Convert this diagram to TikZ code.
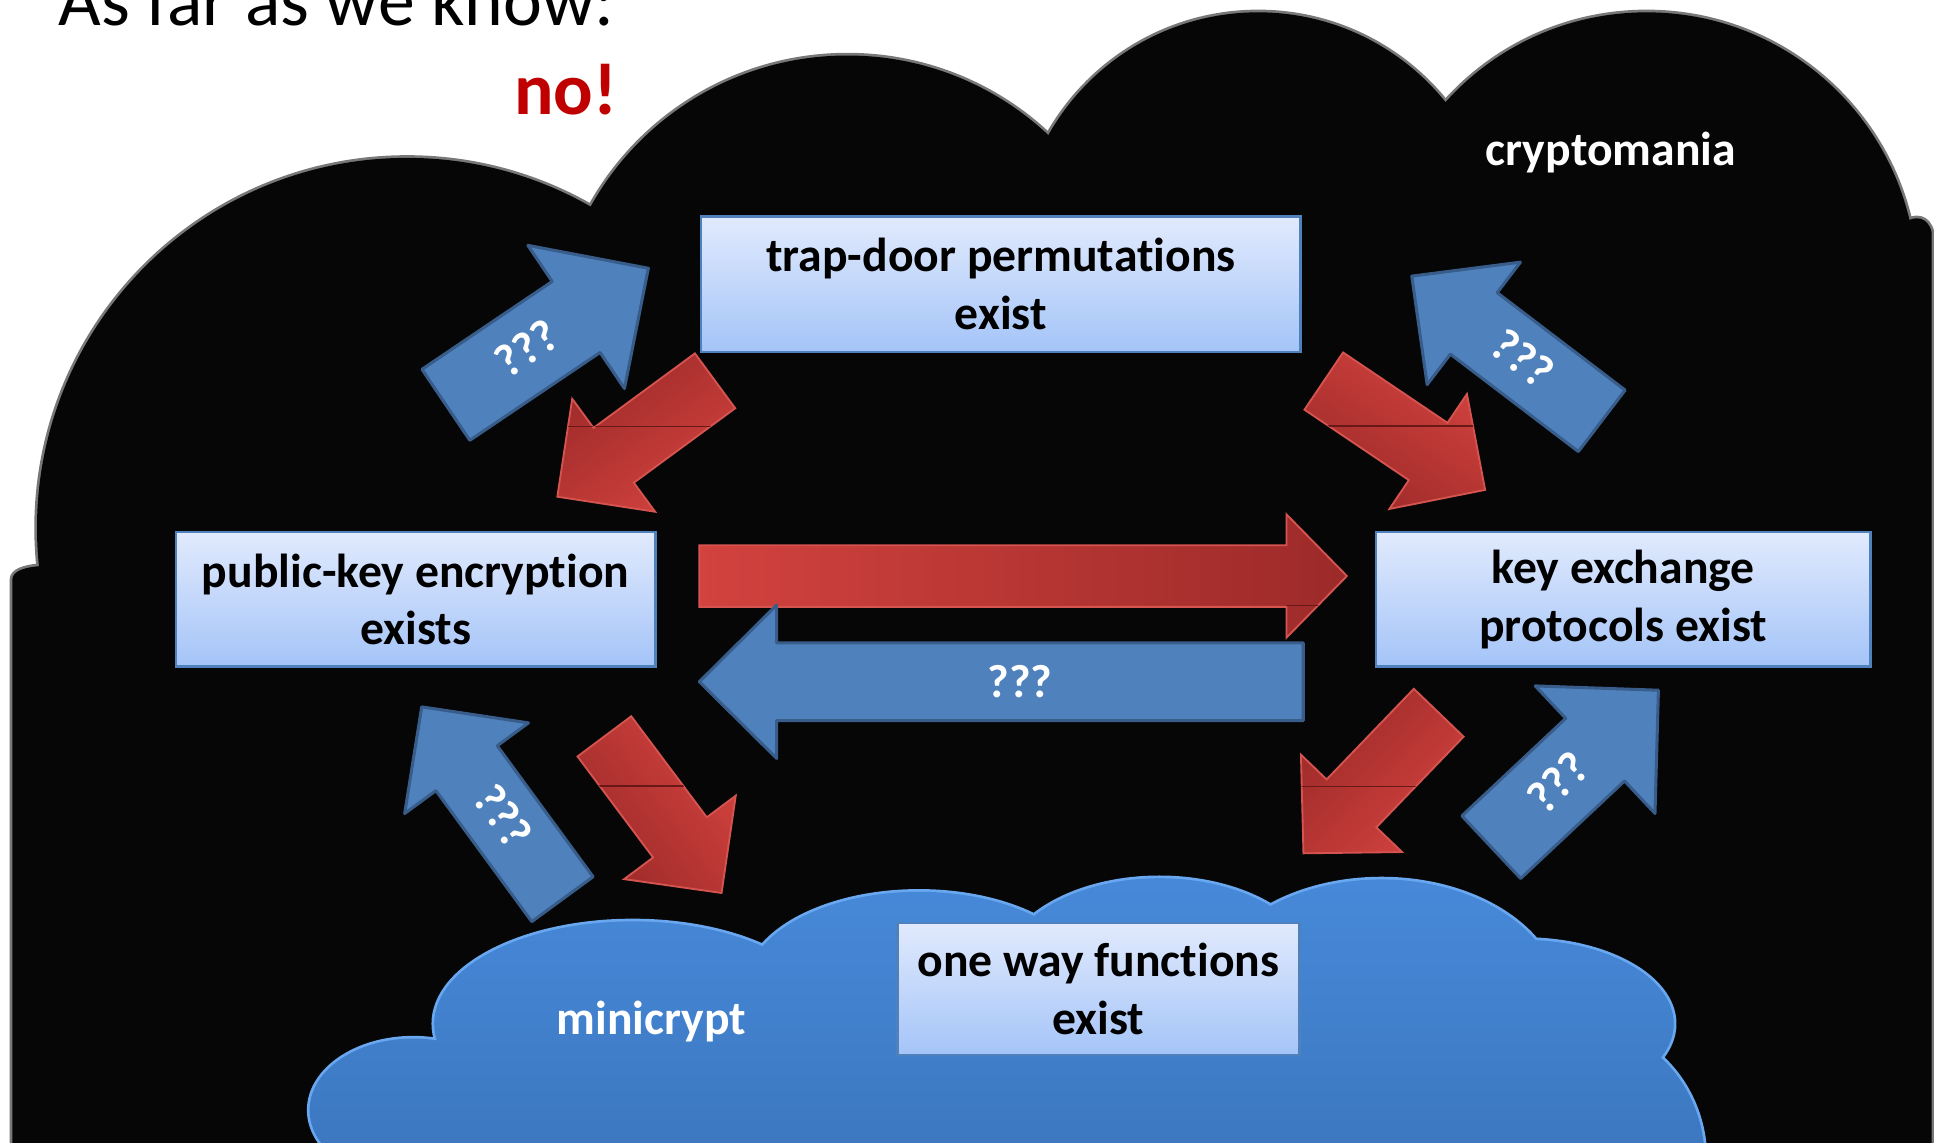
\documentclass[tikz,border=0pt]{standalone}
\usepackage{fontspec}
\setmainfont{Carlito}[Ligatures=NoCommon]
\usepackage{xcolor}

\definecolor{boxtop}{RGB}{225,234,253}
\definecolor{boxbottom}{RGB}{164,196,248}
\definecolor{boxline}{RGB}{79,129,189}
\definecolor{bluefill}{RGB}{79,129,189}
\definecolor{blueline}{RGB}{56,93,138}
\definecolor{redlight}{RGB}{210,66,62}
\definecolor{reddark}{RGB}{156,42,41}
\definecolor{redline}{RGB}{214,84,80}
\definecolor{redseam}{RGB}{105,24,24}
\definecolor{darkcloud}{RGB}{6,6,6}
\definecolor{darkrim}{RGB}{120,120,120}
\definecolor{minitop}{RGB}{71,137,217}
\definecolor{minibottom}{RGB}{46,97,160}
\definecolor{minirim}{RGB}{105,168,240}
\definecolor{answerred}{RGB}{192,0,0}

\tikzset{
  statebox/.style={rectangle,
      draw = boxline,
      line width = 1.1pt,
      top color = boxtop,
      bottom color = boxbottom,
      align = center,
      inner sep = 0pt,
      font = \fontsize{22}{26.7}\selectfont\bfseries},
  qarrow/.style={fill = bluefill, draw = blueline, line width = 1.4pt, line join = round},
  rarrow/.style={draw = redline, line width = 0.85pt, left color = redlight, right color = reddark},
  seamline/.style={draw = redseam, line width = 0.6pt},
  qmark/.style={text = white, inner sep = 0pt, font = \fontsize{21.5}{25}\selectfont\bfseries},
  worldlabel/.style={text = white, inner sep = 0pt, anchor = base, font = \fontsize{22}{26}\selectfont\bfseries},
  cloudrim/.style={draw = darkrim, line width = 2.5pt},
  minicloudrim/.style={draw = minirim, line width = 2.5pt}
}

% block arrow along +x: length, head length, half shaft, half head
\newcommand{\blockarrowpath}[4]{(0,-#3) -- (#1-#2,-#3) -- (#1-#2,-#4) -- (#1,0) -- (#1-#2,#4) -- (#1-#2,#3) -- (0,#3) -- cycle}
\newcommand{\cryptobody}{(10,980) -- (10,470) .. controls (10,463) and (20,460) .. (32,459) -- (330,428) -- (687,283) -- (1020,205) -- (1335,229) -- (1543,181) .. controls (1553,174) and (1563,176) .. (1566,188) -- (1566,980) -- cycle}
\newcommand{\minicryptshape}{(335,900) ellipse [x radius=84, y radius=58]
  (513,830) ellipse [x radius=161, y radius=83]
  (745,800) ellipse [x radius=140, y radius=77]
  (940,790) ellipse [x radius=128, y radius=78]
  (1120,813) ellipse [x radius=145, y radius=100]
  (1235,830) ellipse [x radius=122, y radius=68]
  (1280,940) ellipse [x radius=102, y radius=109]
  (815,1020) ellipse [x radius=600, y radius=200]}

\begin{document}
\begin{tikzpicture}[x=0.02cm, y=-0.02cm]
\useasboundingbox (0,0) rectangle (1568,926);
\fill[white] (0,0) rectangle (1568,926);

\begin{scope}
\clip (0,0) rectangle (1568,926);

% heading
\node[anchor = base west, inner sep = 0pt,
    font = \fontsize{34}{40}\selectfont] (question) at (47,21) {As far as we know:};
\node[anchor = base east, inner sep = 0pt, text = answerred,
    font = \fontsize{34}{40}\selectfont\bfseries] (answer) at (501,93) {no!};

% cryptomania cloud
\draw[cloudrim] (330,428) circle (300);
\draw[cloudrim] (687,283) circle (238);
\draw[cloudrim] (1020,205) circle (195);
\draw[cloudrim] (1335,229) circle (219);
\draw[cloudrim] \cryptobody;
\fill[darkcloud] (330,428) circle (300);
\fill[darkcloud] (687,283) circle (238);
\fill[darkcloud] (1020,205) circle (195);
\fill[darkcloud] (1335,229) circle (219);
\fill[darkcloud] \cryptobody;

% minicrypt cloud
\draw[minicloudrim] \minicryptshape;
\shade[top color = minitop, bottom color = minibottom] \minicryptshape;

\node[worldlabel] (cryptomania) at (1306,134) {cryptomania};
\node[worldlabel] (minicrypt) at (528,839) {minicrypt};

% the four statements
\node[statebox,
    minimum width = 9.72cm,
    minimum height = 2.2cm] (tdp) at (811.5,230.5) {trap-door permutations\\exist};

\node[statebox,
    minimum width = 7.78cm,
    minimum height = 2.18cm] (pke) at (337,486) {public-key encryption\\exists};

\node[statebox,
    minimum width = 8.02cm,
    minimum height = 2.18cm] (kex) at (1316,486) {key exchange\\protocols exist};

\node[statebox,
    minimum width = 6.52cm,
    minimum height = 2.14cm] (owf) at (890.5,802) {one way functions\\exist};

% top left pair
\path[qarrow, shift={(361.5,328.2)}, rotate=34] \blockarrowpath{198}{70.6}{34.7}{70};
\node[qmark, rotate=34] (tlq) at (427,282.4) {???};
\path[rarrow, shading angle=216.3, shift={(579.75,308.75)}, rotate=216.3] \blockarrowpath{158.7}{56.7}{27.6}{56.8};
\begin{scope}
  \clip[shift={(579.75,308.75)}, rotate=216.3] \blockarrowpath{158.7}{56.7}{27.6}{56.8};
  \draw[seamline] (400,346) -- (650,346);
\end{scope}

% top right pair
\path[rarrow, shading angle=-34, shift={(1073.25,308.95)}, rotate=-34] \blockarrowpath{157.8}{55.7}{28}{56.2};
\begin{scope}
  \clip[shift={(1073.25,308.95)}, rotate=-34] \blockarrowpath{157.8}{55.7}{28}{56.2};
  \draw[seamline] (1000,345.4) -- (1250,345.4);
\end{scope}
\path[qarrow, shift={(1298.6,341.2)}, rotate=142.7] \blockarrowpath{193.6}{63.2}{31.3}{62.4};
\node[qmark, rotate=-37.3] (trq) at (1234.3,290.5) {???};

% middle pair
\path[rarrow, shift={(567,467)}] \blockarrowpath{525}{49}{25}{50};
\begin{scope}
  \clip[shift={(567,467)}] \blockarrowpath{525}{49}{25}{50};
  \draw[seamline] (1043,491) -- (1100,491);
\end{scope}
\path[qarrow, shift={(1056.6,552.7)}, rotate=180] \blockarrowpath{489.6}{62.7}{31.5}{62.2};
\node[qmark] (midq) at (827,552.7) {???};

% bottom left pair
\path[qarrow, shift={(456,729)}, rotate=126.2] \blockarrowpath{193.2}{61.6}{30.8}{62.2};
\node[qmark, rotate=-53.8] (blq) at (408,661.6) {???};
\path[rarrow, shading angle=-53.2, shift={(490,597)}, rotate=-53.2] \blockarrowpath{158.6}{56.3}{27.2}{56.5};
\begin{scope}
  \clip[shift={(490,597)}, rotate=-53.2] \blockarrowpath{158.6}{56.3}{27.2}{56.5};
  \draw[seamline] (400,637.3) -- (650,637.3);
\end{scope}

% bottom right pair
\path[rarrow, shading angle=226.1, shift={(1166.45,577.85)}, rotate=226.1] \blockarrowpath{158.2}{56.2}{28}{56.9};
\begin{scope}
  \clip[shift={(1166.45,577.85)}, rotate=226.1] \blockarrowpath{158.2}{56.2}{28}{56.9};
  \draw[seamline] (1000,637.8) -- (1250,637.8);
\end{scope}
\path[qarrow, shift={(1209.05,686.85)}, rotate=43.2] \blockarrowpath{185.9}{70.4}{34.8}{70.9};
\node[qmark, rotate=43.2] (brq) at (1263,634.3) {???};

\end{scope}
\end{tikzpicture}
\end{document}
